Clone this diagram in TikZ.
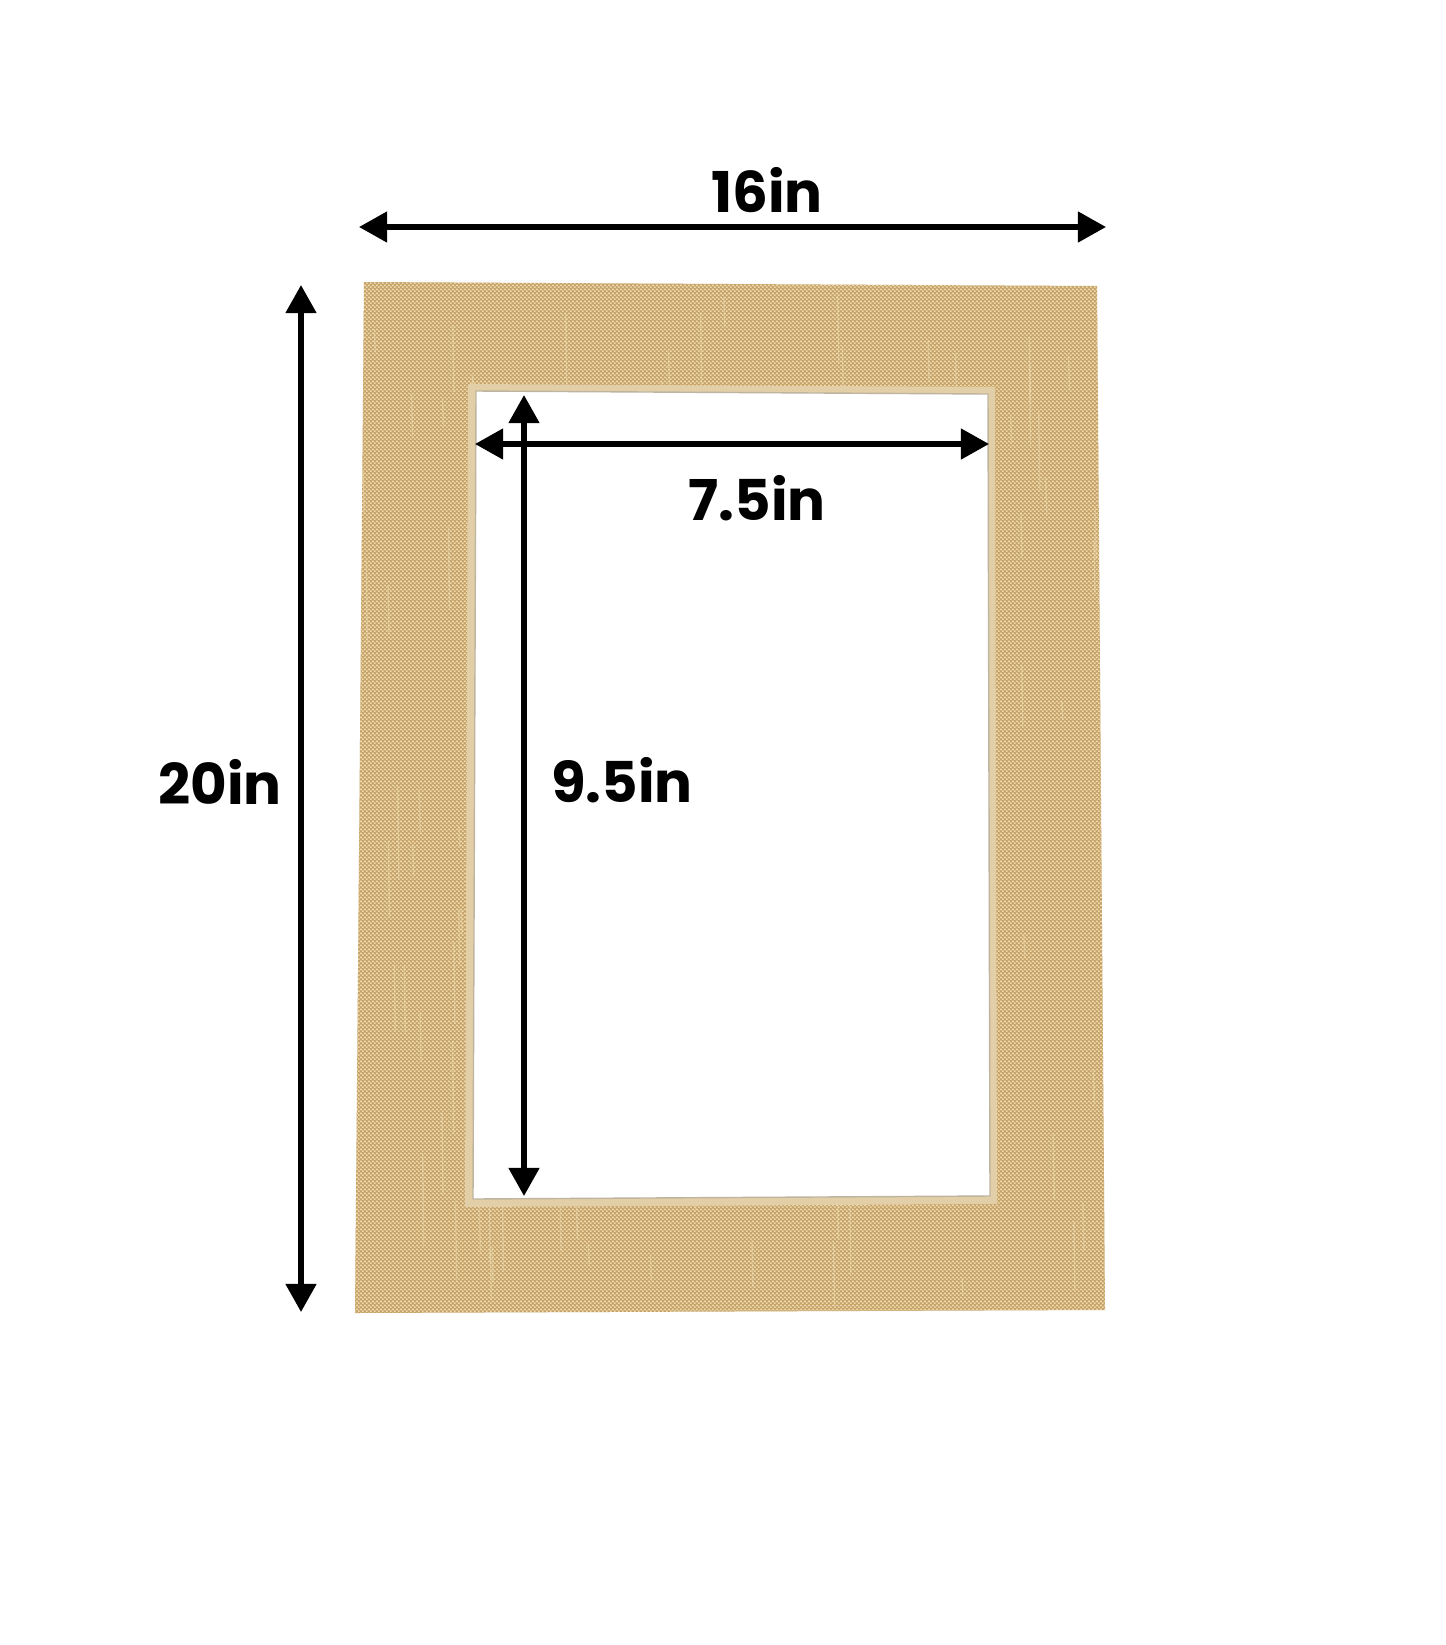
\documentclass[tikz,border=0pt]{standalone}
\usepackage{fontspec}
\setmainfont{Poppins}[BoldFont={Poppins Bold}]
\usetikzlibrary{arrows.meta,patterns.meta}
\definecolor{mat}{RGB}{198,162,104}
\definecolor{linenlight}{RGB}{238,220,176}
\definecolor{bevel}{RGB}{226,207,168}
\definecolor{bevelline}{RGB}{190,180,160}
\tikzdeclarepattern{
  name=linen,
  type=colored,
  bottom left={(0pt,0pt)},
  top right={(1.2pt,1.2pt)},
  tile size={(1.2pt,1.2pt)},
  code={
    \fill[linenlight] (0pt,0pt) rectangle (0.55pt,0.55pt);
    \fill[linenlight] (0.6pt,0.6pt) rectangle (1.15pt,1.15pt);
  }
}
\tikzset{
  dim/.style={line width=1.5pt, {Triangle[length=8pt,width=8.5pt]}-{Triangle[length=8pt,width=8.5pt]}},
  lbl/.style={font=\fontsize{16}{18}\selectfont\bfseries, inner sep=0pt},
  streak/.style={linenlight, line width=0.4pt, opacity=0.45}
}
\begin{document}
\begin{tikzpicture}[x=0.01cm,y=-0.01cm]
\useasboundingbox[fill=white] (0,0) rectangle (1445,1645);
% mat
\fill[mat] (364,282) -- (1097,286) -- (1105,1310) -- (355,1313) -- cycle;
\fill[pattern=linen] (364,282) -- (1097,286) -- (1105,1310) -- (355,1313) -- cycle;
\begin{scope}
\clip (364,282) -- (1097,286) -- (1105,1310) -- (355,1313) -- cycle;
\pgfmathsetseed{7}
\foreach \i in {1,...,140}{
  \pgfmathsetmacro{\sx}{360+745*rnd}
  \pgfmathsetmacro{\sy}{280+1000*rnd}
  \pgfmathsetmacro{\sl}{15+80*rnd}
  \draw[streak] (\sx,\sy) -- (\sx+1,\sy+\sl);
}
\end{scope}
\fill[bevel] (468,384) -- (995,387) -- (997,1204) -- (465,1207) -- cycle;
\fill[white,draw=bevelline,line width=0.4pt] (476,391) -- (988,394) -- (990,1196) -- (473,1199) -- cycle;
% coordinates
\coordinate (wL) at (359,227); \coordinate (wR) at (1106,227);
\coordinate (hT) at (301,285); \coordinate (hB) at (301,1312);
\coordinate (iwL) at (475,444); \coordinate (iwR) at (989,444);
\coordinate (ihT) at (524,395); \coordinate (ihB) at (524,1196);
\draw[dim] (wL) -- (wR);
\draw[dim] (hT) -- (hB);
\draw[dim] (iwL) -- (iwR);
\draw[dim] (ihT) -- (ihB);
\node[lbl] (w) at (767,190) {16in};
\node[lbl] (h) at (220,782) {20in};
\node[lbl] (iw) at (757,498) {7.5in};
\node[lbl] (ih) at (622,780) {9.5in};
\end{tikzpicture}
\end{document}
